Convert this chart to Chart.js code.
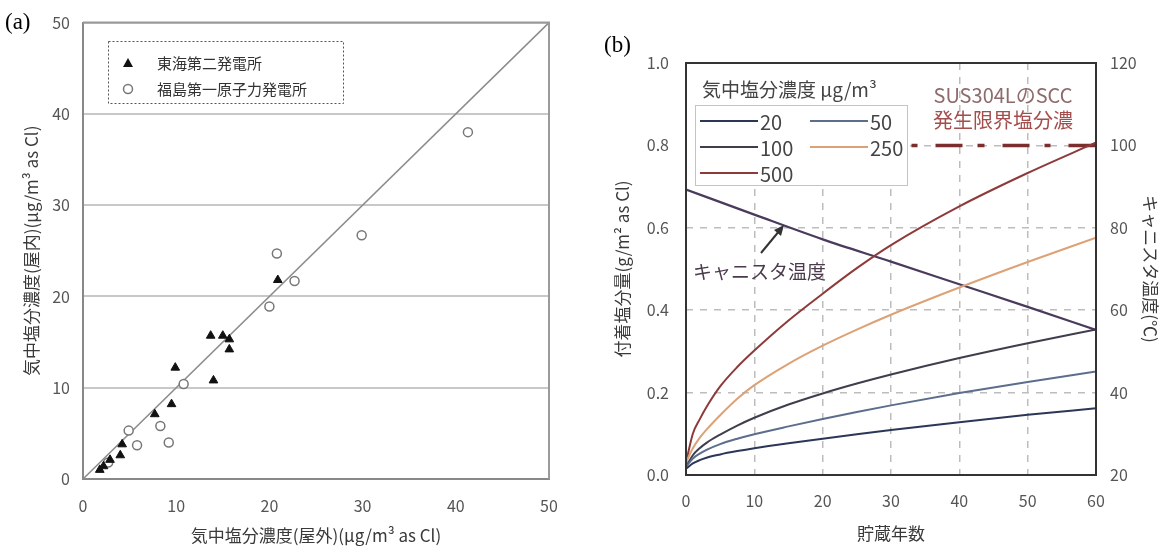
<!DOCTYPE html>
<html><head><meta charset="utf-8">
<script src="https://cdn.jsdelivr.net/npm/chart.js@4.4.0/dist/chart.umd.min.js"></script>
<style>
html,body{margin:0;padding:0;background:#fff;}
#wrap{position:relative;width:1168px;height:556px;overflow:hidden;background:#fff;}
canvas{position:absolute;top:0;}
#ca{left:0;} #cb{left:580px;}
.lbl{position:absolute;font-family:"Liberation Serif","Times New Roman",serif;font-size:23px;color:#000;line-height:1;}
</style></head>
<body><div id="wrap">
<canvas id="ca" width="580" height="556"></canvas>
<canvas id="cb" width="588" height="556"></canvas>
<div class="lbl" style="left:5px;top:10px;">(a)</div>
<div class="lbl" style="left:604px;top:33px;">(b)</div>
</div>
<script>
// ---------- Panel (a) data ----------
const tokaiX = [20.9,13.7,15.0,15.7,15.7,9.9,14.0,9.5,7.7,4.2,4.0,2.9,2.2,1.8];
const tokaiY = [21.8,15.7,15.7,15.3,14.2,12.2,10.8,8.2,7.1,3.8,2.6,2.1,1.4,1.0];
const fukuX  = [41.3,29.9,20.8,22.7,20.0,10.8,4.9,8.3,5.8,9.2,2.7];
const fukuY  = [38.0,26.7,24.7,21.7,18.9,10.4,5.3,5.8,3.7,4.0,1.8];
const diagX = [0,50];
const diagY = [0,50];
const ticksA = [0,10,20,30,40,50];
const legendA = ['東海第二発電所','福島第一原子力発電所'];

// ---------- Panel (b) data ----------
const years   = [0,1,2,3,5,7.5,10,15,20,25,30,40,50,60];
const salt20  = [0.015,0.028,0.036,0.042,0.050,0.058,0.065,0.077,0.088,0.099,0.109,0.128,0.146,0.162];
const salt50  = [0.020,0.040,0.052,0.061,0.075,0.088,0.099,0.118,0.136,0.153,0.169,0.199,0.226,0.251];
const salt100 = [0.020,0.048,0.065,0.078,0.098,0.120,0.139,0.171,0.198,0.222,0.244,0.284,0.320,0.353];
const salt250 = [0.030,0.065,0.090,0.110,0.145,0.185,0.218,0.270,0.314,0.353,0.389,0.455,0.517,0.576];
const salt500 = [0.030,0.100,0.135,0.165,0.215,0.262,0.302,0.375,0.440,0.502,0.558,0.652,0.733,0.807];
const tempYears = [0,10,20,30,40,50,60];
const canisterTemp = [89.3,83.2,77.2,71.8,66.3,60.8,55.2];
const sccYears = [33,60];
const sccLimit = [0.8,0.8];
const ticksBx = [0,10,20,30,40,50,60];
const ticksBy = [0,0.2,0.4,0.6,0.8,1.0];
const ticksBy2 = [20,40,60,80,100,120];
const concLabels = ['20','50','100','250','500'];
const concColors = ['#2c3656','#5d6d8c','#3e3e4c','#dca276','#8e3a3a'];

const JP = '"Noto Sans CJK JP","Noto Sans",sans-serif';
Chart.defaults.font.family = JP;
Chart.defaults.devicePixelRatio = 1;

const pts = (xs, ys) => xs.map((x,i)=>({x:x, y:ys[i]}));
const setTicks = arr => (s => { s.ticks = arr.map(v=>({value:v})); });

// ---------- Chart (a) ----------
const frameA = {
  id:'frameA',
  afterDatasetsDraw(chart){
    const {ctx, chartArea:a} = chart;
    ctx.save();
    ctx.strokeStyle = '#9a9a9a'; ctx.lineWidth = 2;
    ctx.beginPath(); ctx.moveTo(a.left, a.top); ctx.lineTo(a.right, a.top); ctx.lineTo(a.right, a.bottom); ctx.stroke();
    // legend box
    ctx.setLineDash([2,2]); ctx.strokeStyle = '#555'; ctx.lineWidth = 1;
    ctx.strokeRect(108.5, 41.5, 235, 62);
    ctx.setLineDash([]);
    ctx.fillStyle = '#111';
    ctx.beginPath(); ctx.moveTo(128, 58); ctx.lineTo(133, 67); ctx.lineTo(123, 67); ctx.closePath(); ctx.fill();
    ctx.strokeStyle = '#777'; ctx.lineWidth = 1.5; ctx.fillStyle = '#fff';
    ctx.beginPath(); ctx.arc(128, 89, 4.5, 0, Math.PI*2); ctx.fill(); ctx.stroke();
    ctx.fillStyle = '#333'; ctx.font = '15px ' + JP; ctx.textBaseline = 'middle'; ctx.textAlign = 'left';
    ctx.fillText(legendA[0], 157, 63);
    ctx.fillText(legendA[1], 157, 89);
    ctx.restore();
  }
};

new Chart(document.getElementById('ca'), {
  type:'scatter',
  data:{ datasets:[
    { label:'y=x', data: pts(diagX, diagY), showLine:true, borderColor:'#8c8c8c', borderWidth:1.5, pointRadius:0, order:3 },
    { label:legendA[0], data: pts(tokaiX, tokaiY), pointStyle:'triangle', pointRadius:5, backgroundColor:'#111', borderColor:'#111', borderWidth:1, order:1 },
    { label:legendA[1], data: pts(fukuX, fukuY), pointStyle:'circle', pointRadius:4.5, backgroundColor:'#fff', borderColor:'#777', borderWidth:1.5, order:2 }
  ]},
  options:{
    responsive:false, animation:false, devicePixelRatio:1,
    layout:{ padding:{ top:22, right:31, left:0, bottom:0 } },
    plugins:{ legend:{display:false}, tooltip:{enabled:false} },
    scales:{
      x:{ type:'linear', min:0, max:50, afterBuildTicks:setTicks(ticksA),
          afterFit(s){ s.height = 77; },
          grid:{ display:true, drawOnChartArea:false, drawTicks:false },
          border:{ display:true, color:'#888', width:2 },
          ticks:{ color:'#555', font:{ size:16 }, padding:17 },
          title:{ display:true, text:'気中塩分濃度(屋外)(μg/m³ as Cl)', color:'#3a3a3a', font:{ size:17 }, padding:{ bottom:10 } } },
      y:{ type:'linear', min:0, max:50, afterBuildTicks:setTicks(ticksA),
          afterFit(s){ s.width = 83; },
          grid:{ color:'#c8c8c8', lineWidth:2, drawTicks:false },
          border:{ display:true, color:'#888', width:2 },
          ticks:{ color:'#555', font:{ size:16 }, padding:13 },
          title:{ display:true, text:'気中塩分濃度(屋内)(μg/m³ as Cl)', color:'#3a3a3a', font:{ size:17 }, padding:{ top:21 } } }
    }
  },
  plugins:[frameA]
});

// ---------- Chart (b) ----------
const decoB = {
  id:'decoB',
  afterDatasetsDraw(chart){
    const {ctx, chartArea:a} = chart;
    ctx.save();
    ctx.fillStyle = '#fff';
    ctx.fillRect(a.left+1, a.top+1, 222, 122);
    ctx.strokeStyle = '#c4c4c4'; ctx.lineWidth = 1;
    ctx.strokeRect(115.5, 105.5, 212, 80);
    ctx.fillStyle = '#444'; ctx.textBaseline = 'middle'; ctx.textAlign = 'left';
    ctx.font = '19px ' + JP;
    ctx.fillText('気中塩分濃度 μg/m³', 122, 90);
    ctx.font = '20px ' + JP;
    const rows = [[0,0],[1,0],[0,1],[1,1],[0,2]];
    rows.forEach((rc,i)=>{
      const y = 121 + rc[1]*26;
      const x0 = rc[0] ? 230 : 120;
      ctx.strokeStyle = concColors[i]; ctx.lineWidth = 2;
      ctx.beginPath(); ctx.moveTo(x0, y); ctx.lineTo(x0+58, y); ctx.stroke();
      ctx.fillText(concLabels[i], x0+60, y+1);
    });
    ctx.textAlign = 'center'; ctx.font = '20px ' + JP;
    ctx.fillStyle = '#8e6a6a'; ctx.fillText('SUS304LのSCC', 423, 95);
    ctx.fillStyle = '#a34d4d'; ctx.fillText('発生限界塩分濃', 423, 120);
    ctx.textAlign = 'left'; ctx.font = '19px ' + JP; ctx.fillStyle = '#4a3a4c';
    ctx.fillText('キャニスタ温度', 113, 272);
    ctx.strokeStyle = '#333'; ctx.fillStyle = '#333'; ctx.lineWidth = 2;
    ctx.beginPath(); ctx.moveTo(181, 253); ctx.lineTo(200, 230); ctx.stroke();
    ctx.beginPath(); ctx.moveTo(204, 225); ctx.lineTo(194, 230); ctx.lineTo(201, 236); ctx.closePath(); ctx.fill();
    ctx.strokeStyle = '#333'; ctx.lineWidth = 2;
    ctx.strokeRect(a.left, a.top, a.right-a.left, a.bottom-a.top);
    ctx.restore();
  }
};

const saltSets = [salt20, salt50, salt100, salt250, salt500];
const dsB = saltSets.map((arr,i)=>({
  label: concLabels[i], data: pts(years, arr), borderColor: concColors[i], borderWidth: 2,
  pointRadius:0, cubicInterpolationMode:'monotone', yAxisID:'y', fill:false
}));
dsB.push({ label:'キャニスタ温度', data: pts(tempYears, canisterTemp), borderColor:'#4a3a5c', borderWidth:2.2, pointRadius:0, cubicInterpolationMode:'monotone', yAxisID:'y2' });
dsB.push({ label:'SUS304LのSCC発生限界塩分濃', data: pts(sccYears, sccLimit), borderColor:'#7a2e2e', borderWidth:3.5, borderDash:[6,18,27,15,7,18,27,15], pointRadius:0, yAxisID:'y' });

new Chart(document.getElementById('cb'), {
  type:'scatter',
  data:{ datasets: dsB.map(d=>Object.assign({showLine:true}, d)) },
  options:{
    responsive:false, animation:false, devicePixelRatio:1,
    layout:{ padding:{ top:63, right:0, left:0, bottom:0 } },
    plugins:{ legend:{display:false}, tooltip:{enabled:false} },
    scales:{
      x:{ type:'linear', min:0, max:60, afterBuildTicks:setTicks(ticksBx),
          afterFit(s){ s.height = 81; },
          grid:{ color:'#bdbdbd', lineWidth:1.5, drawTicks:false, borderDash:[7,7] },
          border:{ display:false, dash:[7,7] },
          ticks:{ color:'#555', font:{ size:16 }, padding:16 },
          title:{ display:true, text:'貯蔵年数', color:'#3a3a3a', font:{ size:17 }, padding:{ bottom:12 } } },
      y:{ type:'linear', position:'left', min:0, max:1.0, afterBuildTicks:setTicks(ticksBy),
          afterFit(s){ s.width = 106; },
          grid:{ color:'#bdbdbd', lineWidth:1.5, drawTicks:false, borderDash:[7,7] },
          border:{ display:false, dash:[7,7] },
          ticks:{ color:'#555', font:{ size:16 }, padding:17, callback:v=>Number(v).toFixed(1) },
          title:{ display:true, text:'付着塩分量(g/m² as Cl)', color:'#3a3a3a', font:{ size:17 }, padding:{ top:32 } } },
      y2:{ type:'linear', position:'right', min:20, max:120, afterBuildTicks:setTicks(ticksBy2),
          afterFit(s){ s.width = 72; },
          grid:{ display:false, drawTicks:false },
          border:{ display:false },
          ticks:{ color:'#555', font:{ size:16 }, padding:14 },
          title:{ display:true, text:'キャニスタ温度(℃)', color:'#3a3a3a', font:{ size:17 }, padding:{ top:7 } } }
    }
  },
  plugins:[decoB]
});
</script>
</body></html>
